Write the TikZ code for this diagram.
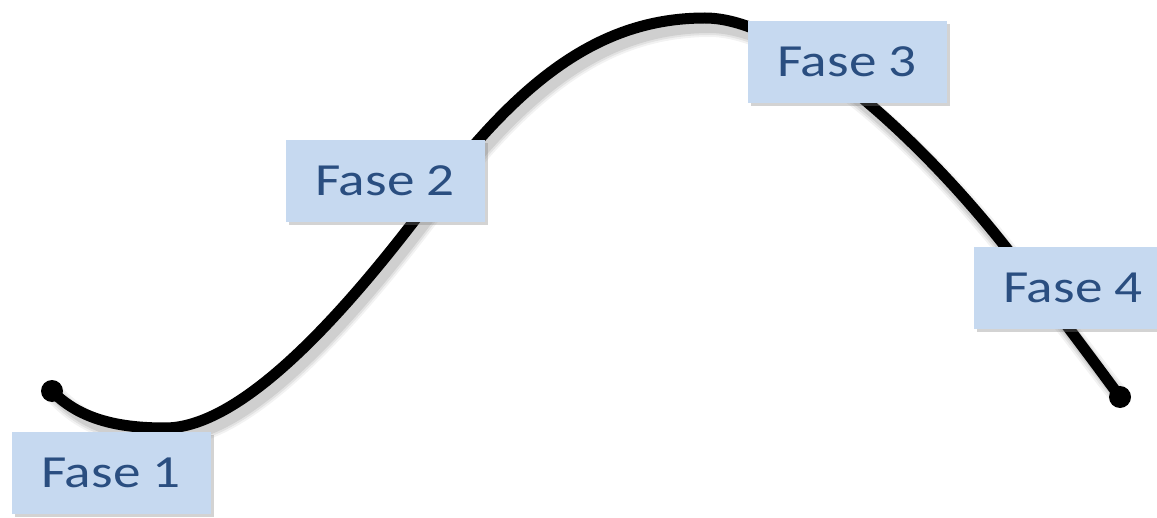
\documentclass[tikz,border=0pt]{standalone}
\usepackage{fontspec}
\newfontfamily\fasefont[FakeStretch=1.2]{Carlito}
\usetikzlibrary{shadows,%
		positioning}
\definecolor{fasefill}{RGB}{198,217,240}
\definecolor{fasetext}{RGB}{42,78,128}

\begin{document}
\begin{tikzpicture}[x=0.5pt,y=-0.5pt,
    fasebox/.style={fill=fasefill, draw=none, text=fasetext,
      minimum width=99.5pt, minimum height=41pt, inner sep=0pt,
      font=\fasefont\fontsize{23}{23}\selectfont,
      drop shadow={shadow xshift=1.5pt, shadow yshift=-1.5pt, opacity=0.35}},
    curva/.style={line width=5.5pt, line cap=round}]
  \useasboundingbox (0,0) rectangle (1157,518);

  \coordinate (start) at (52,391);
  \coordinate (end) at (1120,397);

  % ombra della curva
  \foreach \w/\o in {10pt/0.10,8pt/0.14,6pt/0.2}
    \draw[curva, line width=\w, gray, opacity=\o, shift={(5,9)}]
      (start) .. controls (80,420) and (120,428) .. (165,428)
      .. controls (240,428) and (340,320) .. (430,200)
      .. controls (520,80) and (600,18) .. (705,18)
      .. controls (790,18) and (920,140) .. (1000,240)
      .. controls (1060,315) and (1100,370) .. (end);

  % curva
  \draw[curva] (start) .. controls (80,420) and (120,428) .. (165,428)
      .. controls (240,428) and (340,320) .. (430,200)
      .. controls (520,80) and (600,18) .. (705,18)
      .. controls (790,18) and (920,140) .. (1000,240)
      .. controls (1060,315) and (1100,370) .. (end);
  \fill (start) circle (5.5pt);
  \fill (end) circle (5.5pt);

  \node [fasebox] (fase1) at (111,473) {Fase 1};
  \node [fasebox] (fase2) at (385,181) {Fase 2};
  \node [fasebox] (fase3) at (847,62) {Fase 3};
  \node [fasebox] (fase4) at (1073,288) {Fase 4};

\end{tikzpicture}
\end{document}
